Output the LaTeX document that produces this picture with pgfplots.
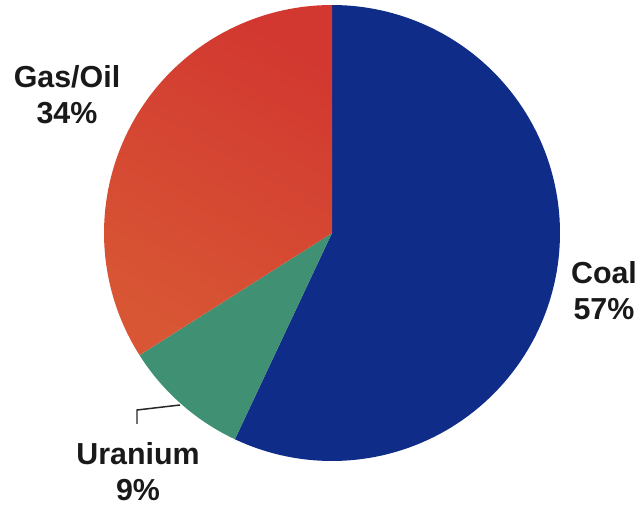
\documentclass[border=0pt]{standalone}
\usepackage{pgfplots}
\pgfplotsset{compat=1.18}
\usepackage{fontspec}
\setmainfont{Liberation Sans}
\definecolor{coalblue}{RGB}{15,44,136}
\definecolor{gasredtop}{RGB}{210,56,48}
\definecolor{gasredbot}{RGB}{216,86,52}
\definecolor{urangreen}{RGB}{64,144,116}
% shares in percent
\def\coal{57}
\def\gas{34}
\def\uran{9}
\begin{document}
\begin{tikzpicture}
\pgfmathsetmacro{\aStart}{90}
\pgfmathsetmacro{\aCoal}{90-\coal*3.6}
\pgfmathsetmacro{\aUran}{\aCoal-\uran*3.6}
\pgfmathsetmacro{\aGasEnd}{\aUran+360}
\begin{axis}[
  width=641bp, height=508bp, scale only axis,
  xmin=0, xmax=641, ymin=0, ymax=508,
  axis lines=none, ticks=none, clip=false,
  enlargelimits=false,
]
\path (axis cs:0,0) rectangle (axis cs:641,508);
\addplot[draw=none, fill=coalblue, domain=\aCoal:\aStart, samples=120, variable=\t]
  ({332+228*cos(\t)},{275+228*sin(\t)}) -- (axis cs:332,275) -- cycle;
\addplot[draw=none, fill=urangreen, domain=\aUran:\aCoal, samples=30, variable=\t]
  ({332+228*cos(\t)},{275+228*sin(\t)}) -- (axis cs:332,275) -- cycle;
\addplot[draw=none, top color=gasredtop, bottom color=gasredbot, shading angle=-30, domain=\aStart:\aGasEnd, samples=80, variable=\t]
  ({332+228*cos(\t)},{275+228*sin(\t)}) -- (axis cs:332,275) -- cycle;
\addplot[black!85, line width=1.5pt, mark=none] coordinates {(180,103) (137,98) (137,84)};
\node[align=center, font=\fontsize{30.5}{36}\selectfont\bfseries, text=black!90] at (axis cs:67,413) {Gas/Oil\\34\%};
\node[align=center, font=\fontsize{30.5}{36}\selectfont\bfseries, text=black!90] at (axis cs:604,217) {Coal\\57\%};
\node[align=center, font=\fontsize{30.5}{36}\selectfont\bfseries, text=black!90] at (axis cs:138,36) {Uranium\\9\%};
\end{axis}
\end{tikzpicture}
\end{document}
